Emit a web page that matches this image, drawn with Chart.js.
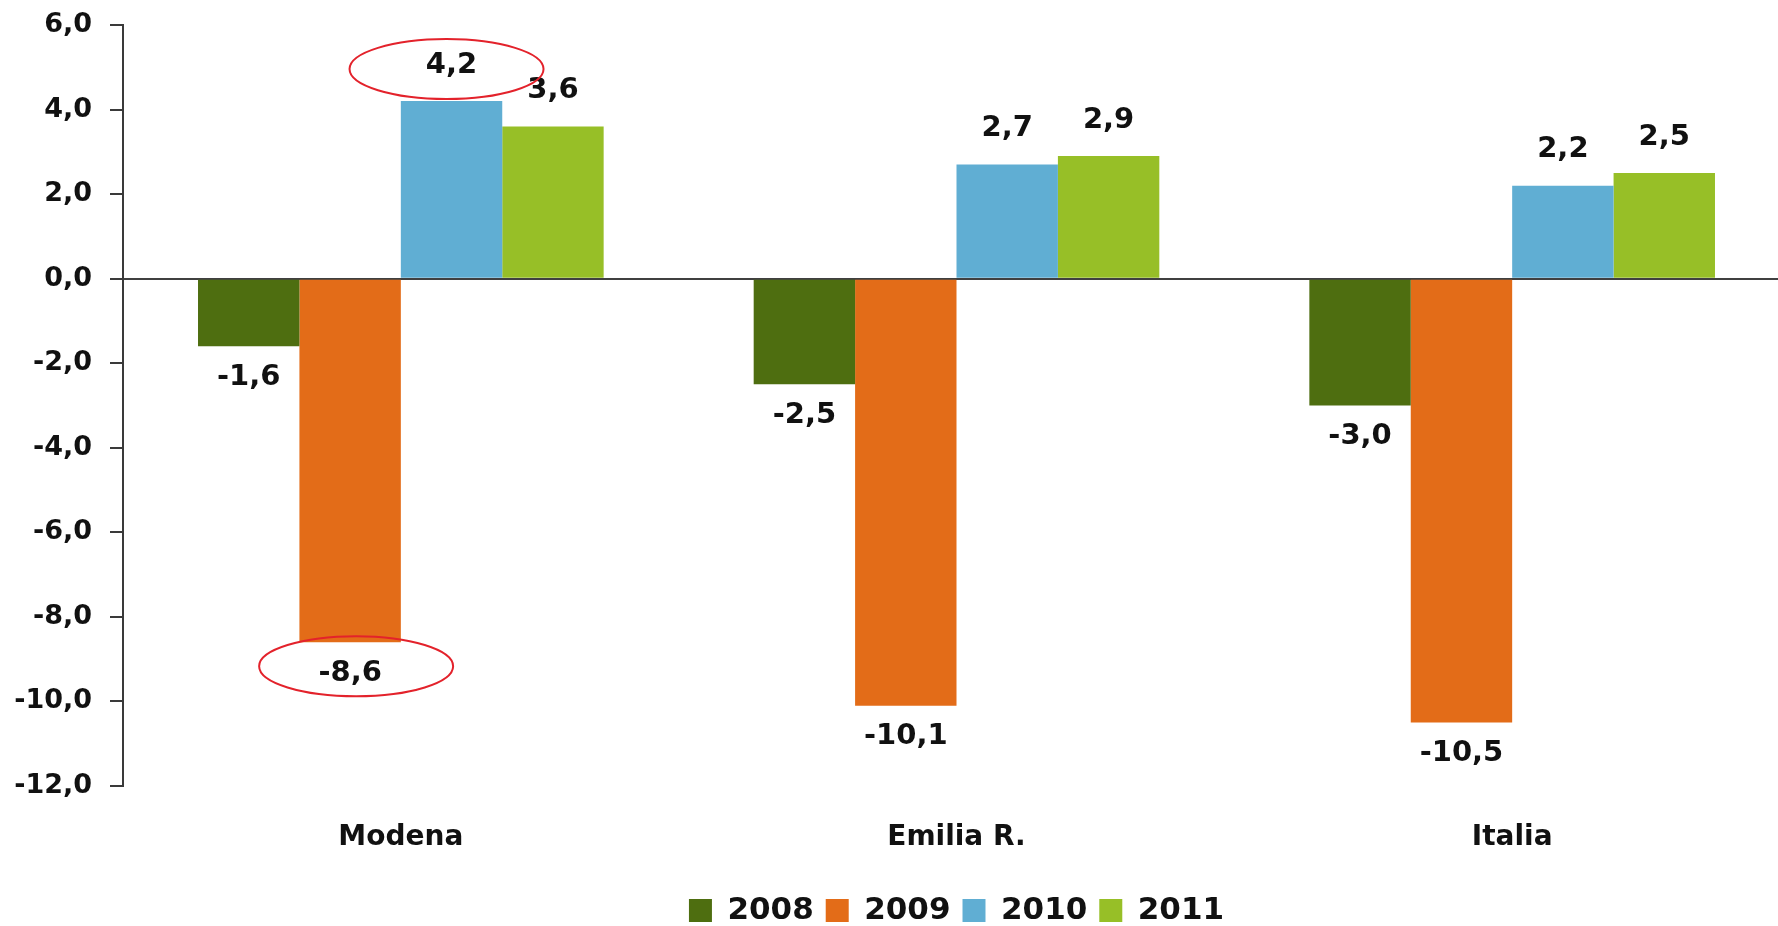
<!DOCTYPE html>
<html>
<head>
<meta charset="utf-8">
<script src="https://cdn.jsdelivr.net/npm/chart.js@4"></script>
<style>
    body{margin:0;overflow:hidden;background:#fff;}
    #contenedor{width:1792px;height:936px;}
</style>
</head>
<body>
<div id="contenedor"><canvas id="canvas"></canvas></div>
<script>
//datos
const categorias = ["Modena", "Emilia R.", "Italia"];
const anios = ["2008", "2009", "2010", "2011"];
const valores2008 = [-1.6, -2.5, -3.0];
const valores2009 = [-8.6, -10.1, -10.5];
const valores2010 = [4.2, 2.7, 2.2];
const valores2011 = [3.6, 2.9, 2.5];
const colores = ["#4e6e10", "#e36c18", "#60aed3", "#97bf27"];

const fuente = "'DejaVu Sans', sans-serif";

//formato con coma decimal
const conComa = (v)=> v.toFixed(1).replace(".", ",");

//dibuja los valores encima o debajo de cada barra, y los ovalos rojos
const etiquetas = {
    id: "etiquetas",
    afterDatasetsDraw(chart){
        const ctx = chart.ctx;
        ctx.save();
        ctx.font = "bold 29px " + fuente;
        ctx.fillStyle = "#111";
        ctx.textAlign = "center";
        ctx.textBaseline = "middle";
        chart.data.datasets.forEach((ds, i)=>{
            const meta = chart.getDatasetMeta(i);
            meta.data.forEach((barra, j)=>{
                const v = ds.data[j];
                const y = v >= 0 ? barra.y - 36 : barra.y + 31;
                ctx.fillText(conComa(v), barra.x, y);
            })
        })
        //ovalos sobre Modena 2010 y 2009
        ctx.strokeStyle = "#e3222b";
        ctx.lineWidth = 2;
        const b1 = chart.getDatasetMeta(2).data[0];
        const b2 = chart.getDatasetMeta(1).data[0];
        ctx.beginPath();
        ctx.ellipse(b1.x - 5, b1.y - 32, 97, 30, 0, 0, Math.PI * 2);
        ctx.stroke();
        ctx.beginPath();
        ctx.ellipse(b2.x + 6, b2.y + 24, 97, 30, 0, 0, Math.PI * 2);
        ctx.stroke();
        ctx.restore();
    }
};

const series = [valores2008, valores2009, valores2010, valores2011];

var miCanvas = document.getElementById("canvas");
var grafico = new Chart(miCanvas.getContext("2d"), {
    type: "bar",
    data: {
        labels: categorias,
        datasets: series.map((s, i)=>({
            label: anios[i],
            data: s,
            backgroundColor: colores[i],
            borderWidth: 0,
            barPercentage: 1.0,
            categoryPercentage: 0.73
        }))
    },
    options: {
        responsive: true,
        maintainAspectRatio: false,
        animation: false,
        layout: {padding: {top: 25, right: 2, bottom: 0, left: 0}},
        plugins: {
            tooltip: {enabled: false},
            legend: {
                position: "bottom",
                fullSize: false,
                labels: {
                    boxWidth: 23,
                    boxHeight: 23,
                    padding: 12,
                    color: "#111",
                    font: {family: fuente, size: 31, weight: "bold"}
                }
            }
        },
        scales: {
            x: {
                grid: {display: false, drawTicks: false},
                border: {display: false},
                ticks: {
                    padding: 35,
                    color: "#111",
                    font: {family: fuente, size: 28, weight: "bold"}
                },
                afterFit: (scale)=>{ scale.height = 97; }
            },
            y: {
                min: -12,
                max: 6,
                border: {display: true, color: "#3a3a3a", width: 2},
                grid: {
                    color: (c)=> c.tick && c.tick.value === 0 ? "#404040" : "rgba(0,0,0,0)",
                    lineWidth: 2,
                    tickColor: "#3a3a3a",
                    tickLength: 13,
                    drawTicks: true
                },
                ticks: {
                    stepSize: 2,
                    padding: 18,
                    color: "#111",
                    font: {family: fuente, size: 27, weight: "bold"},
                    callback: (v)=> conComa(v)
                },
                afterFit: (scale)=>{
                    scale.width = 123;
                    //que el padding de las etiquetas no empuje el area hacia abajo
                    scale.paddingTop = 0;
                    scale.paddingBottom = 0;
                }
            }
        }
    },
    plugins: [etiquetas]
});
</script>
</body>
</html>
